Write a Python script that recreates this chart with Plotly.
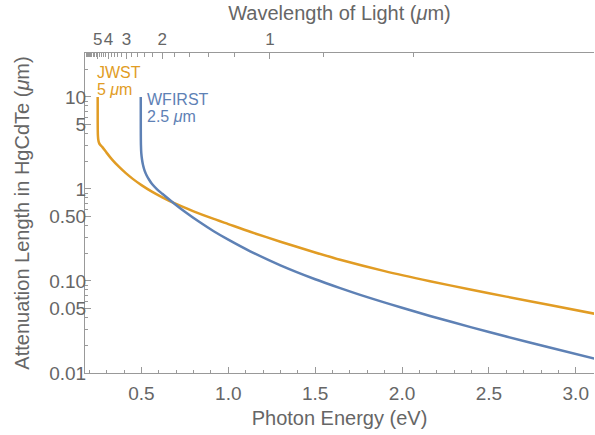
import plotly.graph_objects as go

# ---------------- data ----------------
jwst_E = [0.248, 0.2481, 0.2485, 0.2495, 0.2515, 0.255, 0.262, 0.274, 0.30, 0.33, 0.37, 0.41,
          0.45, 0.50, 0.56, 0.62, 0.686, 0.80, 0.90, 1.00, 1.13, 1.30, 1.50, 1.644, 1.90,
          2.161, 2.40, 2.60, 2.85, 3.11]
jwst_L = [10.0, 5.5, 4.3, 3.75, 3.42, 3.2, 3.02, 2.86, 2.465, 2.096, 1.743, 1.483,
          1.286, 1.101, 0.935, 0.811, 0.704, 0.571, 0.484, 0.415, 0.340, 0.267, 0.204, 0.170,
          0.128, 0.0995, 0.0803, 0.0676, 0.0547, 0.0440]

wfirst_E = [0.496, 0.4962, 0.497, 0.499, 0.503, 0.509, 0.518, 0.53, 0.545, 0.561, 0.59,
            0.62, 0.686, 0.75, 0.83, 0.916, 1.00, 1.126, 1.30, 1.50, 1.644, 1.80, 2.00,
            2.161, 2.40, 2.60, 2.85, 3.11]
wfirst_L = [10.0, 4.5, 3.0, 2.45, 2.1, 1.82, 1.58, 1.40, 1.25, 1.13, 0.99,
            0.885, 0.70, 0.565, 0.442, 0.347, 0.281, 0.210, 0.148, 0.1045, 0.0837, 0.0667,
            0.0511, 0.0417, 0.0313, 0.0249, 0.0189, 0.0143]

x_major = [0.5, 1.0, 1.5, 2.0, 2.5, 3.0]
y_major = [0.01, 0.05, 0.1, 0.5, 1, 5, 10]
y_major_text = ["0.01", "0.05", "0.10", "0.50", "1", "5", "10"]
y_minor = [0.02, 0.03, 0.04, 0.06, 0.07, 0.08, 0.09,
           0.2, 0.3, 0.4, 0.6, 0.7, 0.8, 0.9,
           2, 3, 4, 6, 7, 8, 9, 20, 30]
wl_major = [1, 2, 3, 4, 5]
wl_minor = [round(0.4 + 0.2 * i, 1) for i in range(35)]

HC = 1.23984  # eV*um

BLUE = "#5E81B5"
ORANGE = "#E19C24"
TXT = "#666666"
AX = "#999999"
FONT = "Liberation Sans, Arial, sans-serif"
TICK = 19
TITLE = 20
ANN = 16

XR = [0.175, 3.105]

fig = go.Figure()
fig.add_trace(go.Scatter(x=jwst_E, y=jwst_L, mode="lines",
                         line=dict(color=ORANGE, width=2.5, shape="spline", smoothing=0.8),
                         showlegend=False))
fig.add_trace(go.Scatter(x=wfirst_E, y=wfirst_L, mode="lines",
                         line=dict(color=BLUE, width=2.5, shape="spline", smoothing=0.8),
                         showlegend=False))
# dummy trace on the top axis
fig.add_trace(go.Scatter(x=[1.0], y=[1.0], xaxis="x2", mode="markers",
                         marker=dict(opacity=0), showlegend=False, hoverinfo="skip"))

wl_minor_E = [HC / w for w in wl_minor if w not in wl_major and XR[0] <= HC / w <= XR[1]]

fig.update_layout(
    width=595, height=435,
    margin=dict(l=85, r=1, t=53, b=62),
    paper_bgcolor="white", plot_bgcolor="white",
    font=dict(family=FONT, color=TXT, size=TICK),
    xaxis=dict(
        range=XR, showgrid=False, zeroline=False,
        showline=True, linecolor=AX, linewidth=1,
        tickmode="array", tickvals=x_major, ticktext=[f"{v:.1f}" for v in x_major],
        ticks="inside", ticklen=6, tickcolor=AX, tickangle=0, ticklabelstandoff=3,
        minor=dict(dtick=0.1, tick0=0.0, ticks="inside", ticklen=3, tickcolor=AX),
        title=dict(text="Photon Energy (eV)", font=dict(size=TITLE), standoff=8),
        tickfont=dict(size=TICK),
    ),
    xaxis2=dict(
        range=XR, overlaying="x", side="top", showgrid=False, zeroline=False,
        showline=True, linecolor=AX, linewidth=1,
        tickmode="array", tickvals=[HC / w for w in wl_major],
        ticktext=[str(w) for w in wl_major],
        ticks="inside", ticklen=6, tickcolor=AX, tickangle=0,
        minor=dict(tickmode="array", tickvals=wl_minor_E, ticks="inside", ticklen=4, tickcolor=AX),
        title=dict(text="Wavelength of Light (<i>μ</i>m)", font=dict(size=TITLE), standoff=4),
        tickfont=dict(size=TICK - 2),
    ),
    yaxis=dict(
        type="log", range=[-2, 1.477], showgrid=False, zeroline=False,
        showline=True, linecolor=AX, linewidth=1,
        tickmode="array", tickvals=y_major, ticktext=y_major_text,
        ticks="inside", ticklen=6, tickcolor=AX, tickangle=0, ticklabelstandoff=-6,
        minor=dict(tickmode="array", tickvals=y_minor, ticks="inside", ticklen=3, tickcolor=AX),
        title=dict(text="Attenuation Length in HgCdTe (<i>μ</i>m)", font=dict(size=TITLE), standoff=14),
        tickfont=dict(size=TICK),
    ),
)

labels = [
    ("JWST", 0.0196, 0.9400, ORANGE),
    ("5 <i>μ</i>m", 0.0196, 0.8870, ORANGE),
    ("WFIRST", 0.118, 0.856, BLUE),
    ("2.5 <i>μ</i>m", 0.118, 0.803, BLUE),
]
for txt, px, py, col in labels:
    fig.add_annotation(xref="paper", yref="paper", x=px, y=py, xanchor="left", yanchor="middle",
                       text=txt, showarrow=False, align="left",
                       font=dict(color=col, size=ANN, family=FONT))

fig.write_html("out.html")
